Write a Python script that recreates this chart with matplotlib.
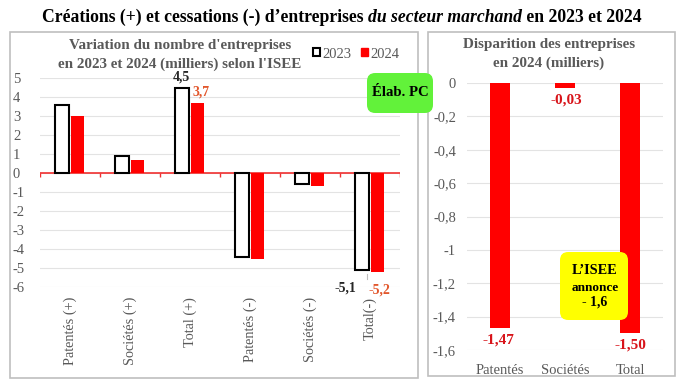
import matplotlib
matplotlib.use('Agg')
import matplotlib.pyplot as plt
from matplotlib.patches import Rectangle, FancyBboxPatch, Patch
import numpy as np

# left chart: variation in thousands
categories = ['Patentés (+)', 'Sociétés (+)', 'Total (+)', 'Patentés (-)', 'Sociétés (-)', 'Total(-)']
values_2023 = [3.6, 0.9, 4.5, -4.4, -0.6, -5.1]
values_2024 = [3.0, 0.7, 3.7, -4.5, -0.7, -5.2]
left_yticks = list(range(-6, 6))

# right chart: 2024 disappearance
right_categories = ['Patentés', 'Sociétés', 'Total']
right_values = [-1.47, -0.03, -1.50]
right_labels = ['-1,47', '-0,03', '-1,50']
right_yticks = [0, -0.2, -0.4, -0.6, -0.8, -1, -1.2, -1.4, -1.6]

W, H = 684, 384
GREY = '#595959'
RED = '#FF0000'
LABEL_RED = '#D8141A'
ORANGE = '#E2572C'

plt.rcParams['font.family'] = ['Liberation Serif', 'DejaVu Serif']


def rect(x0, y0, x1, y1):
    # pixel box (top-left origin) -> figure fraction
    return [x0 / W, (H - y1) / H, (x1 - x0) / W, (y1 - y0) / H]


def fmt(v):
    return ('%g' % v).replace('.', ',')


fig = plt.figure(figsize=(W / 100, H / 100), dpi=100)
fig.patch.set_facecolor('white')

# panel frames
for x0, y0, x1, y1 in [(10, 32, 418, 378), (428, 32, 675, 376)]:
    fig.patches.append(Rectangle((x0 / W, (H - y1) / H), (x1 - x0) / W, (y1 - y0) / H,
                                 transform=fig.transFigure, fill=False,
                                 edgecolor='#BFBFBF', linewidth=1.2))

# ---- left chart
ax = fig.add_axes(rect(40, 78, 400, 287))
x = np.arange(len(categories))
ax.bar(x - 0.14, values_2023, 0.23, facecolor='white', edgecolor='black', linewidth=1.5, zorder=3)
ax.bar(x + 0.13, values_2024, 0.22, color=RED, zorder=3)
ax.set_xlim(-0.5, len(categories) - 0.5)
ax.set_ylim(-6, 5)
ax.set_yticks(left_yticks)
ax.set_yticklabels([str(t) for t in left_yticks])
ax.grid(axis='y', color='#E3E3E3', linewidth=0.8, zorder=0)
ax.axhline(0, color='#F03030', linewidth=1.2, zorder=2)
ax.vlines(np.arange(len(categories) + 1) - 0.5, -0.2, 0, color='#F03030', linewidth=1, zorder=2)
for s in ax.spines.values():
    s.set_visible(False)
ax.set_xticks(x)
ax.set_xticklabels(categories, rotation=90, va='top', ha='center')
ax.tick_params(axis='x', length=0, pad=7, labelsize=10.3, labelcolor=GREY)
ax.tick_params(axis='y', length=0, pad=19.5, labelsize=10.5, labelcolor=GREY)
for lab in ax.get_yticklabels():
    lab.set_ha('left')

ax.annotate(fmt(values_2023[2]), (x[2] - 0.14, values_2023[2]), xytext=(0, 3),
            textcoords='offset points', ha='center', va='bottom',
            fontsize=10, fontweight='bold', color='#262626')
ax.annotate(fmt(values_2024[2]), (x[2] + 0.13, values_2024[2]), xytext=(2, 3),
            textcoords='offset points', ha='center', va='bottom',
            fontsize=10, fontweight='bold', color=ORANGE)
ax.annotate(fmt(values_2023[5]), (x[5] - 0.14, values_2023[5]), xytext=(-12, -13),
            textcoords='offset points', ha='center', va='center',
            fontsize=10, fontweight='bold', color='#262626')
ax.plot([x[5] - 0.05, x[5] - 0.05], [values_2023[5] - 0.2, values_2023[5] - 0.5],
        color='#BFBFBF', linewidth=0.8)
ax.annotate(fmt(values_2024[5]), (x[5] + 0.13, values_2024[5]), xytext=(1, -13),
            textcoords='offset points', ha='center', va='center',
            fontsize=10, fontweight='bold', color=ORANGE)

fig.text(180 / W, 1 - 55 / H, "Variation du nombre d'entreprises\nen 2023 et 2024 (milliers) selon l'ISEE",
         ha='center', va='center', fontsize=10.9, fontweight='bold', color=GREY, linespacing=1.5)

handles = [Patch(facecolor='white', edgecolor='black', linewidth=1.5),
           Patch(facecolor=RED, edgecolor=RED)]
fig.legend(handles, ['2023', '2024'], loc='center right', bbox_to_anchor=(399 / W, 1 - 54 / H),
           ncol=2, frameon=False, handlelength=0.5, handleheight=0.5, handletextpad=0.15,
           columnspacing=0.6, fontsize=10.5, labelcolor=GREY, borderaxespad=0, borderpad=0)

# ---- right chart
ax2 = fig.add_axes(rect(467, 83, 663, 350))
xr = np.arange(len(right_categories))
ax2.bar(xr, right_values, 0.31, color=RED, zorder=3)
ax2.set_xlim(-0.5, len(right_categories) - 0.5)
ax2.set_ylim(-1.6, 0)
ax2.set_yticks(right_yticks)
ax2.set_yticklabels([fmt(t) for t in right_yticks])
ax2.grid(axis='y', color='#E3E3E3', linewidth=0.8, zorder=0)
for s in ax2.spines.values():
    s.set_visible(False)
ax2.set_xticks(xr)
ax2.set_xticklabels(right_categories)
ax2.tick_params(axis='x', length=0, pad=10, labelsize=10.5, labelcolor=GREY)
ax2.tick_params(axis='y', length=0, pad=8, labelsize=10.5, labelcolor=GREY)

offsets = [(-1, -4), (1, -4), (0, -4)]
for xi, v, lab, off in zip(xr, right_values, right_labels, offsets):
    ax2.annotate(lab, (xi, v), xytext=off, textcoords='offset points', ha='center', va='top',
                 fontsize=11, fontweight='bold', color=LABEL_RED, annotation_clip=False)

fig.text(549 / W, 1 - 54 / H, "Disparition des entreprises\nen 2024 (milliers)",
         ha='center', va='center', fontsize=10.9, fontweight='bold', color=GREY, linespacing=1.5)

# ---- callout boxes
for (x0, y0, x1, y1), col in [((367, 73, 433, 113), '#62F23A'), ((560, 252, 628, 320), '#FFFF00')]:
    fig.patches.append(FancyBboxPatch((x0 / W, (H - y1) / H), (x1 - x0) / W, (y1 - y0) / H,
                                      boxstyle='round,pad=0,rounding_size=0.012',
                                      transform=fig.transFigure, facecolor=col,
                                      edgecolor='none', zorder=10, mutation_aspect=W / H))
fig.text(400 / W, 1 - 93 / H, 'Élab. PC', ha='center', va='center', fontsize=10.6,
         fontweight='bold', color='black', zorder=11)
fig.text(595 / W, 1 - 271 / H, 'L’ISEE', ha='center', va='center', fontsize=10.3,
         fontweight='bold', color='black', zorder=11)
fig.text(595 / W, 1 - 288 / H, 'annonce', ha='center', va='center', fontsize=9.5,
         fontweight='bold', color='black', zorder=11)
fig.text(595 / W, 1 - 302 / H, '- 1,6', ha='center', va='center', fontsize=10,
         fontweight='bold', color='black', zorder=11)

# ---- main title in three styles
pieces = [('Créations (+) et cessations (-) d’entreprises ', 'normal'),
          ('du secteur marchand', 'italic'),
          (' en 2023 et 2024', 'normal')]
renderer = fig.canvas.get_renderer()
texts = []
for s, style in pieces:
    t = fig.text(0, 1 - 17 / H, s, ha='left', va='center', fontsize=12.7, fontweight='bold',
                 fontstyle=style, color='black')
    texts.append(t)
widths = [t.get_window_extent(renderer).width for t in texts]
start = 342 - sum(widths) / 2
for t, w in zip(texts, widths):
    t.set_x(start / W)
    start += w

fig.savefig('out.png', dpi=100, facecolor='white')
